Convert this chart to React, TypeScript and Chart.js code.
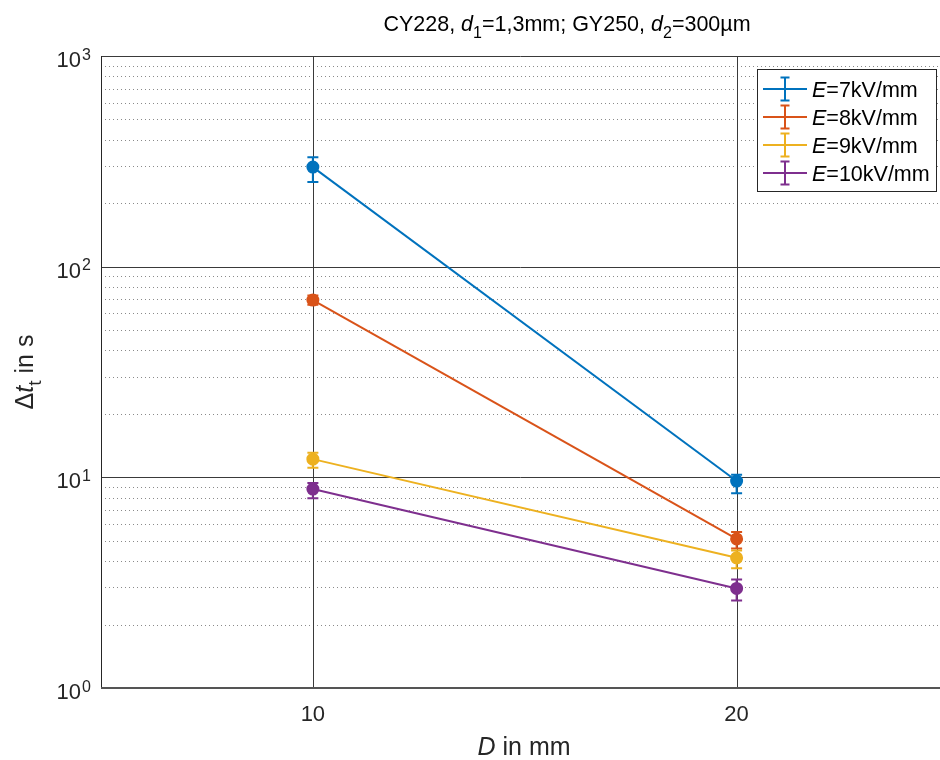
import React, { useEffect, useRef } from "react";
import { Chart, registerables } from "chart.js";

Chart.register(...registerables);

const categories = [10, 20];
const labels = ["7", "8", "9", "10"];
const colors = ["#0072BD", "#D95319", "#EDB120", "#7E2F8E"];
const e7 = [297, 9.6];
const e7Lo = [252, 8.4];
const e7Hi = [331, 10.3];
const e8 = [69.4, 5.1];
const e8Lo = [66, 4.6];
const e8Hi = [73, 5.5];
const e9 = [12.2, 4.15];
const e9Lo = [11.1, 3.7];
const e9Hi = [13.1, 4.5];
const e10 = [8.8, 2.97];
const e10Lo = [7.95, 2.6];
const e10Hi = [9.4, 3.27];
const yDecades = [1, 10, 100, 1000];
const xTicks = [10, 20];

const series = [
  { v: e7, lo: e7Lo, hi: e7Hi },
  { v: e8, lo: e8Lo, hi: e8Hi },
  { v: e9, lo: e9Lo, hi: e9Hi },
  { v: e10, lo: e10Lo, hi: e10Hi },
];

const FONT = '"Liberation Sans", Arial, Helvetica, sans-serif';

type Part = { t: string; italic?: boolean; sub?: boolean; sup?: boolean };

function drawRich(ctx: CanvasRenderingContext2D, parts: Part[], x: number, y: number, size: number, align: "left" | "center" | "right") {
  const small = Math.round(size * 0.75);
  const fontFor = (p: Part) => `${p.italic ? "italic " : ""}${p.sub || p.sup ? small : size}px ${FONT}`;
  let total = 0;
  const widths = parts.map((p) => {
    ctx.font = fontFor(p);
    const w = ctx.measureText(p.t).width;
    total += w;
    return w;
  });
  let cx = align === "left" ? x : align === "center" ? x - total / 2 : x - total;
  ctx.textBaseline = "alphabetic";
  ctx.textAlign = "left";
  parts.forEach((p, i) => {
    ctx.font = fontFor(p);
    const dy = p.sub ? size * 0.32 : p.sup ? -size * 0.45 : 0;
    ctx.fillText(p.t, cx, y + dy);
    cx += widths[i];
  });
}

const decor = {
  id: "decor",
  beforeDatasetsDraw(chart: any) {
    const ctx: CanvasRenderingContext2D = chart.ctx;
    const { left, right, top, bottom } = chart.chartArea;
    const xs = chart.scales.x;
    const ys = chart.scales.y;
    ctx.save();
    // minor dotted grid
    ctx.strokeStyle = "#8a8a8a";
    ctx.lineWidth = 1;
    ctx.setLineDash([1, 3]);
    for (let d = 0; d < yDecades.length - 1; d++) {
      for (let m = 2; m <= 9; m++) {
        const py = Math.round(ys.getPixelForValue(yDecades[d] * m)) + 0.5;
        ctx.beginPath();
        ctx.moveTo(left, py);
        ctx.lineTo(right, py);
        ctx.stroke();
      }
    }
    ctx.setLineDash([]);
    ctx.strokeStyle = "#3a3a3a";
    yDecades.forEach((v) => {
      const py = Math.round(ys.getPixelForValue(v)) + 0.5;
      ctx.beginPath();
      ctx.moveTo(left, py);
      ctx.lineTo(right, py);
      ctx.stroke();
    });
    xTicks.forEach((v) => {
      const px = Math.round(xs.getPixelForValue(v)) + 0.5;
      ctx.beginPath();
      ctx.moveTo(px, top);
      ctx.lineTo(px, bottom);
      ctx.stroke();
    });
    // axes
    ctx.strokeStyle = "#262626";
    ctx.lineWidth = 1;
    ctx.beginPath();
    ctx.moveTo(left + 0.5, top);
    ctx.lineTo(left + 0.5, bottom);
    ctx.stroke();
    ctx.strokeStyle = "#555";
    ctx.lineWidth = 2;
    ctx.beginPath();
    ctx.moveTo(left, bottom);
    ctx.lineTo(right, bottom);
    ctx.stroke();
    // error bars
    ctx.lineWidth = 2;
    series.forEach((s, si) => {
      ctx.strokeStyle = colors[si];
      categories.forEach((c, i) => {
        const px = xs.getPixelForValue(c);
        const pl = ys.getPixelForValue(s.lo[i]);
        const ph = ys.getPixelForValue(s.hi[i]);
        ctx.beginPath();
        ctx.moveTo(px, pl);
        ctx.lineTo(px, ph);
        ctx.moveTo(px - 5.5, pl);
        ctx.lineTo(px + 5.5, pl);
        ctx.moveTo(px - 5.5, ph);
        ctx.lineTo(px + 5.5, ph);
        ctx.stroke();
      });
    });
    ctx.restore();
  },
  afterDraw(chart: any) {
    const ctx: CanvasRenderingContext2D = chart.ctx;
    const { left } = chart.chartArea;
    const ys = chart.scales.y;
    ctx.save();
    ctx.fillStyle = "#262626";
    // y tick labels
    yDecades.forEach((v, i) => {
      const py = ys.getPixelForValue(v);
      ctx.textBaseline = "alphabetic";
      ctx.font = `16px ${FONT}`;
      ctx.textAlign = "left";
      ctx.fillText(String(i), 82, py + 3.5);
      ctx.font = `22px ${FONT}`;
      ctx.textAlign = "right";
      ctx.fillText("10", 81, py + 11);
    });
    // title
    ctx.fillStyle = "#000";
    drawRich(
      ctx,
      [
        { t: "CY228, " },
        { t: "d", italic: true },
        { t: "1", sub: true },
        { t: "=1,3mm; GY250, " },
        { t: "d", italic: true },
        { t: "2", sub: true },
        { t: "=300µm" },
      ],
      567,
      31,
      21.5,
      "center"
    );
    // x title
    ctx.fillStyle = "#262626";
    drawRich(ctx, [{ t: "D", italic: true }, { t: " in mm" }], 524, 755, 25, "center");
    // y title
    ctx.save();
    ctx.translate(33, 372);
    ctx.rotate(-Math.PI / 2);
    drawRich(ctx, [{ t: "Δ" }, { t: "t", italic: true }, { t: "t", sub: true }, { t: " in s" }], 0, 0, 25, "center");
    ctx.restore();
    // legend
    const bx = 757, by = 69, bw = 179, bh = 122;
    ctx.fillStyle = "#fff";
    ctx.fillRect(bx, by, bw, bh);
    ctx.strokeStyle = "#262626";
    ctx.lineWidth = 1;
    ctx.strokeRect(bx + 0.5, by + 0.5, bw, bh);
    labels.forEach((lab, i) => {
      const cy = 89 + i * 28;
      ctx.strokeStyle = colors[i];
      ctx.lineWidth = 2;
      ctx.beginPath();
      ctx.moveTo(763, cy);
      ctx.lineTo(807, cy);
      ctx.moveTo(785, cy - 11.5);
      ctx.lineTo(785, cy + 11.5);
      ctx.moveTo(780.5, cy - 11.5);
      ctx.lineTo(789.5, cy - 11.5);
      ctx.moveTo(780.5, cy + 11.5);
      ctx.lineTo(789.5, cy + 11.5);
      ctx.stroke();
      ctx.fillStyle = "#000";
      drawRich(ctx, [{ t: "E", italic: true }, { t: `=${lab}kV/mm` }], 812, cy + 8, 21.5, "left");
    });
    ctx.restore();
  },
};

export default function App() {
  const ref = useRef<HTMLCanvasElement>(null);
  useEffect(() => {
    if (!ref.current) return;
    const chart = new Chart(ref.current, {
      type: "line",
      data: {
        datasets: series.map((s, si) => ({
          label: `E=${labels[si]}kV/mm`,
          data: categories.map((c, i) => ({ x: c, y: s.v[i] })),
          borderColor: colors[si],
          backgroundColor: colors[si],
          pointBackgroundColor: colors[si],
          pointBorderColor: colors[si],
          pointRadius: 5.5,
          borderWidth: 2,
        })),
      },
      options: {
        animation: false,
        responsive: false,
        layout: { autoPadding: false, padding: { top: 56, right: 0, left: 0, bottom: 0 } },
        plugins: { legend: { display: false }, tooltip: { enabled: false }, title: { display: false } },
        scales: {
          x: {
            type: "linear",
            min: 5,
            max: 24.8,
            grid: { display: false },
            border: { display: false },
            afterBuildTicks: (scale: any) => {
              scale.ticks = xTicks.map((v) => ({ value: v }));
            },
            afterFit: (scale: any) => {
              scale.height = 72;
            },
            ticks: {
              font: { family: FONT, size: 22 },
              color: "#262626",
              padding: 6,
              maxRotation: 0,
              callback: (v: any) => String(v),
            },
          },
          y: {
            type: "logarithmic",
            min: 1,
            max: 1000,
            grid: { display: false },
            border: { display: false },
            ticks: { display: false },
            afterFit: (scale: any) => {
              scale.width = 101;
            },
          },
        },
      },
      plugins: [decor],
    });
    return () => chart.destroy();
  }, []);
  return (
    <div style={{ position: "fixed", left: 0, top: 0, width: 940, height: 760, background: "#fff" }}>
      <canvas ref={ref} width={940} height={760} style={{ width: 940, height: 760 }} />
    </div>
  );
}
